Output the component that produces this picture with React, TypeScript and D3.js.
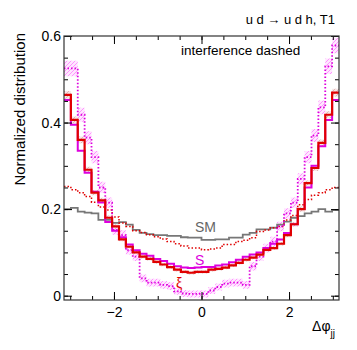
import React, { useEffect, useRef } from "react";
import * as d3 from "d3";

// 40 bins over [-pi, pi]
const nBins = 40;

const yMajor = [0, 0.2, 0.4, 0.6];
const xMajor = [-2, 0, 2];

// SM (grey solid)
const smVals = [
  0.2, 0.203, 0.194, 0.192, 0.19, 0.175, 0.175, 0.168, 0.17, 0.164,
  0.152, 0.145, 0.142, 0.14, 0.14, 0.138, 0.138, 0.135, 0.134, 0.134,
  0.129, 0.129, 0.13, 0.13, 0.134, 0.134, 0.141, 0.145, 0.153, 0.153,
  0.157, 0.164, 0.171, 0.18, 0.184, 0.19, 0.194, 0.2, 0.194, 0.198,
];

// S (magenta solid)
const sVals = [
  0.452, 0.395, 0.335, 0.284, 0.24, 0.215, 0.17, 0.15, 0.135, 0.118,
  0.105, 0.097, 0.092, 0.085, 0.08, 0.074, 0.068, 0.065, 0.064, 0.065,
  0.066, 0.066, 0.07, 0.072, 0.077, 0.083, 0.09, 0.095, 0.1, 0.11,
  0.12, 0.13, 0.145, 0.165, 0.2, 0.25, 0.3, 0.345, 0.406, 0.452,
];

// xi (red solid)
const xiVals = [
  0.464, 0.406, 0.36, 0.291, 0.238, 0.22, 0.18, 0.16, 0.13, 0.113,
  0.1, 0.09, 0.085, 0.078, 0.072, 0.066, 0.06, 0.055, 0.053, 0.055,
  0.055, 0.06, 0.062, 0.065, 0.07, 0.076, 0.083, 0.088, 0.095, 0.106,
  0.11, 0.12, 0.14, 0.165, 0.2, 0.26, 0.295, 0.353, 0.418, 0.469,
];
const xiErr = [
  0.009, 0.008, 0.008, 0.007, 0.006, 0.006, 0.005, 0.005, 0.004, 0.004,
  0.004, 0.004, 0.004, 0.004, 0.004, 0.004, 0.004, 0.004, 0.004, 0.004,
  0.004, 0.004, 0.004, 0.004, 0.004, 0.004, 0.004, 0.004, 0.004, 0.004,
  0.004, 0.004, 0.005, 0.005, 0.006, 0.006, 0.007, 0.008, 0.008, 0.009,
];

// xi interference (red dotted)
const xiIntVals = [
  0.252, 0.245, 0.238, 0.229, 0.216, 0.205, 0.198, 0.182, 0.168, 0.16,
  0.15, 0.146, 0.141, 0.136, 0.131, 0.125, 0.12, 0.115, 0.11, 0.11,
  0.106, 0.108, 0.11, 0.118, 0.118, 0.125, 0.128, 0.134, 0.148, 0.152,
  0.157, 0.16, 0.175, 0.185, 0.21, 0.222, 0.232, 0.238, 0.245, 0.25,
];

// S interference (magenta dotted, hatched band)
const sIntVals = [
  0.525, 0.525, 0.418, 0.365, 0.32, 0.25, 0.215, 0.152, 0.14, 0.105,
  0.09, 0.04, 0.03, 0.03, 0.025, 0.022, 0.01, 0.005, 0.004, 0.004,
  0.004, 0.012, 0.02, 0.028, 0.03, 0.03, 0.025, 0.068, 0.09, 0.11,
  0.125, 0.16, 0.19, 0.215, 0.27, 0.32, 0.37, 0.435, 0.53, 0.578,
];
const sIntErr = [
  0.018, 0.018, 0.016, 0.015, 0.014, 0.013, 0.012, 0.011, 0.011, 0.01,
  0.01, 0.009, 0.009, 0.009, 0.009, 0.009, 0.008, 0.008, 0.008, 0.008,
  0.008, 0.008, 0.008, 0.009, 0.009, 0.009, 0.009, 0.01, 0.01, 0.01,
  0.011, 0.011, 0.012, 0.012, 0.013, 0.014, 0.015, 0.016, 0.018, 0.018,
];

const font = "'Liberation Sans', Arial, Helvetica, sans-serif";
const red = "#e00000";
const magenta = "#dd00dd";
const grey = "#777777";

function DphiChart() {
  const ref = useRef<SVGSVGElement>(null);

  useEffect(() => {
    const svg = d3.select(ref.current);
    svg.selectAll("*").remove();

    const left = 64, right = 339, top = 36, bottom = 300;

    const xScale = d3.scaleLinear().domain([-Math.PI, Math.PI]).range([left, right]);
    const yScale = d3.scaleLinear().domain([-0.01, 0.6]).range([bottom, top]);

    const edges = d3.range(nBins + 1).map((i) => -Math.PI + (i * 2 * Math.PI) / nBins);
    const steps = (vals: number[]) => [
      ...vals.map((v, i) => [edges[i], v, i]),
      [edges[nBins], vals[nBins - 1], nBins - 1],
    ];

    // hatch patterns
    const defs = svg.append("defs");
    const hatch = (id: string, bg: string, color: string) => {
      const p = defs
        .append("pattern")
        .attr("id", id)
        .attr("patternUnits", "userSpaceOnUse")
        .attr("width", 4)
        .attr("height", 4);
      p.append("rect").attr("width", 4).attr("height", 4).attr("fill", bg);
      p.append("path")
        .attr("d", "M-1,1 l2,-2 M0,4 l4,-4 M3,5 l2,-2")
        .attr("stroke", color)
        .attr("stroke-width", 0.9);
    };
    hatch("hatchMag", "#ffe6ff", "#ff8cff");
    hatch("hatchRed", "#f6e6e6", "#e0b0b0");

    const clip = defs.append("clipPath").attr("id", "frameClip");
    clip.append("rect").attr("x", left).attr("y", top).attr("width", right - left).attr("height", bottom - top);

    const plot = svg.append("g").attr("clip-path", "url(#frameClip)");

    const band = (vals: number[], errs: number[]) =>
      d3
        .area<any>()
        .x((d) => xScale(d[0]))
        .y0((d) => yScale(vals[d[2]] - errs[d[2]]))
        .y1((d) => yScale(vals[d[2]] + errs[d[2]]))
        .curve(d3.curveStepAfter)(steps(vals));

    const line = d3
      .line<any>()
      .x((d) => xScale(d[0]))
      .y((d) => yScale(d[1]))
      .curve(d3.curveStepAfter);

    // bands
    plot.append("path").attr("d", band(sIntVals, sIntErr)).attr("fill", "url(#hatchMag)");
    plot.append("path").attr("d", band(xiVals, xiErr)).attr("fill", "url(#hatchRed)");

    // histograms
    const hists = [
      { vals: smVals, color: grey, w: 1.8, dash: null },
      { vals: xiIntVals, color: red, w: 1.5, dash: "1.5,2" },
      { vals: sIntVals, color: magenta, w: 1.8, dash: "1.5,2" },
      { vals: sVals, color: magenta, w: 2, dash: null },
      { vals: xiVals, color: red, w: 2.2, dash: null },
    ];
    hists.forEach((h) => {
      plot
        .append("path")
        .attr("d", line(steps(h.vals)))
        .attr("fill", "none")
        .attr("stroke", h.color)
        .attr("stroke-width", h.w)
        .attr("stroke-dasharray", h.dash);
    });

    // axes, ticks inside the frame
    const yMinor = d3.range(0, 0.6001, 0.05);
    const xMinor = d3.range(-3, 3.001, 0.5);
    const fmt = d3.format("~g") as any;

    const styleAxis = (g: any) => {
      g.select(".domain").remove();
      g.selectAll("line").attr("stroke", "#000");
      g.selectAll("text").attr("font-family", font).attr("font-size", 14).attr("fill", "#000");
    };

    svg.append("g").attr("transform", `translate(${left},0)`)
      .call(d3.axisLeft(yScale).tickValues(yMinor).tickSize(-4).tickFormat(() => "")).call(styleAxis);
    svg.append("g").attr("transform", `translate(${left},0)`)
      .call(d3.axisLeft(yScale).tickValues(yMajor).tickSize(-8).tickPadding(3).tickFormat(fmt)).call(styleAxis);
    svg.append("g").attr("transform", `translate(${right},0)`)
      .call(d3.axisRight(yScale).tickValues(yMinor).tickSize(-4).tickFormat(() => "")).call(styleAxis);
    svg.append("g").attr("transform", `translate(${right},0)`)
      .call(d3.axisRight(yScale).tickValues(yMajor).tickSize(-8).tickFormat(() => "")).call(styleAxis);

    svg.append("g").attr("transform", `translate(0,${bottom})`)
      .call(d3.axisBottom(xScale).tickValues(xMinor).tickSize(-4).tickFormat(() => "")).call(styleAxis);
    svg.append("g").attr("transform", `translate(0,${bottom})`)
      .call(d3.axisBottom(xScale).tickValues(xMajor).tickSize(-8).tickPadding(7).tickFormat(fmt)).call(styleAxis);
    svg.append("g").attr("transform", `translate(0,${top})`)
      .call(d3.axisTop(xScale).tickValues(xMinor).tickSize(-4).tickFormat(() => "")).call(styleAxis);
    svg.append("g").attr("transform", `translate(0,${top})`)
      .call(d3.axisTop(xScale).tickValues(xMajor).tickSize(-8).tickFormat(() => "")).call(styleAxis);

    // frame
    svg.append("rect")
      .attr("x", left).attr("y", top)
      .attr("width", right - left).attr("height", bottom - top)
      .attr("fill", "none").attr("stroke", "#333").attr("stroke-width", 1.2);

    // titles
    svg.append("text")
      .attr("transform", `translate(25,33) rotate(-90)`)
      .attr("text-anchor", "end")
      .attr("font-family", font).attr("font-size", 15)
      .text("Normalized distribution");

    const xt = svg.append("text")
      .attr("x", 335).attr("y", 331)
      .attr("text-anchor", "end")
      .attr("font-family", font).attr("font-size", 14);
    xt.append("tspan").text("Δφ");
    xt.append("tspan").attr("font-size", 10).attr("dy", 6).text("jj");

    svg.append("text")
      .attr("x", 335).attr("y", 24)
      .attr("text-anchor", "end")
      .attr("font-family", font).attr("font-size", 13)
      .text("u d \u2192 u d h, T1");

    svg.append("text")
      .attr("x", 181).attr("y", 55)
      .attr("font-family", font).attr("font-size", 13.5)
      .text("interference dashed");

    // curve labels
    const labels = [
      { t: "SM", x: 195, y: 232, c: "#666" },
      { t: "S", x: 195, y: 265, c: magenta },
      { t: "ξ", x: 176, y: 288, c: red },
    ];
    labels.forEach((l) => {
      svg.append("text")
        .attr("x", l.x).attr("y", l.y)
        .attr("font-family", font).attr("font-size", 14)
        .attr("fill", l.c)
        .text(l.t);
    });
  }, []);

  return (
    <svg
      ref={ref}
      width={357}
      height={350}
      style={{ position: "absolute", left: 0, top: 0, background: "#fff" }}
    />
  );
}

export default function App() {
  return <DphiChart />;
}
